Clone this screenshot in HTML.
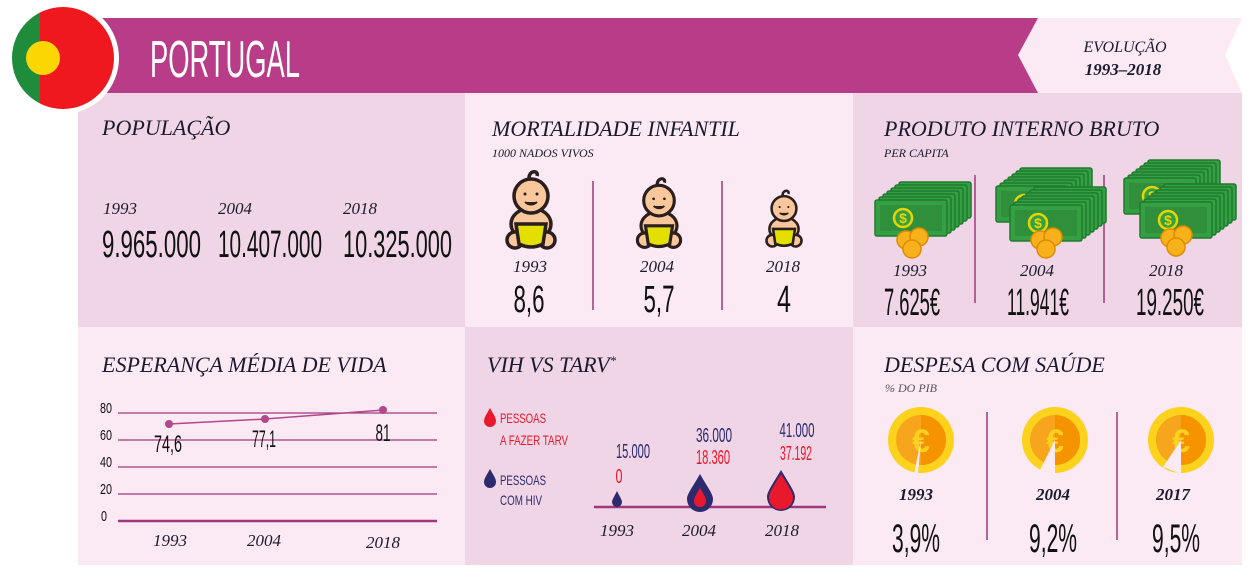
<!DOCTYPE html>
<html><head><meta charset="utf-8"><style>
html,body{margin:0;padding:0;background:#fff;width:1260px;height:584px;overflow:hidden}
svg{display:block}
.ser{font-family:"Liberation Serif",serif;font-style:italic;fill:#1a1a2e}
.num{font-family:"Liberation Sans",sans-serif;fill:#111}
</style></head><body>
<svg width="1260" height="584" viewBox="0 0 1260 584" xmlns="http://www.w3.org/2000/svg">
<defs>
<g id="baby" stroke="#2a1e1e" stroke-width="3.5">
  <path d="M-2 6 C-2 -2 8 -2 6 4" fill="none"/>
  <ellipse cx="0" cy="52" rx="20" ry="16" fill="#f9c79b"/>
  <circle cx="-16" cy="68" r="8" fill="#f9c79b"/>
  <circle cx="16" cy="68" r="8" fill="#f9c79b"/>
  <path d="M-15 52 L15 52 L12 72 Q0 78 -12 72 Z" fill="#e3e000"/>
  <circle cx="0" cy="24" r="17" fill="#f9c79b"/>
  <path d="M-6 30 Q0 35 6 30" fill="#2a1e1e" stroke-width="2"/>
  <circle cx="-6" cy="22" r="1.5" fill="#2a1e1e" stroke="none"/>
  <circle cx="6" cy="22" r="1.5" fill="#2a1e1e" stroke="none"/>
</g>
<g id="bill">
  <rect x="0" y="0" width="72" height="36" rx="2" fill="#34a043" stroke="#1f7a2e" stroke-width="1.5"/>
</g>
<g id="stack">
  <use href="#bill" x="24" y="-18"/><use href="#bill" x="20" y="-15"/><use href="#bill" x="16" y="-12"/>
  <use href="#bill" x="12" y="-9"/><use href="#bill" x="8" y="-6"/><use href="#bill" x="4" y="-3"/><use href="#bill" x="0" y="0"/>
  <rect x="5" y="5" width="62" height="26" fill="#2f8f3b"/>
  <circle cx="28" cy="18" r="9" fill="#34a043" stroke="#e8d500" stroke-width="2.5"/>
  <text x="28" y="23" text-anchor="middle" font-family="Liberation Sans" font-weight="bold" font-size="14" fill="#e8d500">$</text>
</g>
<g id="coins">
  <circle cx="0" cy="0" r="9" fill="#f7b21b" stroke="#e08a00" stroke-width="1.5"/>
  <circle cx="13" cy="-3" r="9" fill="#f7b21b" stroke="#e08a00" stroke-width="1.5"/>
  <circle cx="6" cy="9" r="9" fill="#f7b21b" stroke="#e08a00" stroke-width="1.5"/>
</g>
<g id="coin">
  <circle r="33" fill="#fcd21c"/>
  <circle r="25" fill="#f8a51e"/>
  <path d="M0 -25 A25 25 0 0 1 0 25 Z" fill="#f59300"/>
  <text x="0" y="12" text-anchor="middle" font-family="Liberation Sans" font-weight="bold" font-size="32" fill="#fcd21c">€</text>
</g>
</defs>

<rect x="78" y="93" width="387" height="234" fill="#efd5e6"/>
<rect x="465" y="93" width="388" height="234" fill="#fbe9f3"/>
<rect x="853" y="93" width="389" height="234" fill="#efd5e6"/>
<rect x="78" y="327" width="387" height="238" fill="#fbe9f3"/>
<rect x="465" y="327" width="388" height="238" fill="#efd5e6"/>
<rect x="853" y="327" width="389" height="238" fill="#fbe9f3"/>

<rect x="92" y="18" width="950" height="75" fill="#b83c87"/>
<polygon points="1038,18 1242,18 1225,55 1242,93 1038,93 1018,55" fill="#fbe9f3"/>
<text x="150" y="77" class="num" font-size="52" style="fill:#fff" textLength="150" lengthAdjust="spacingAndGlyphs">PORTUGAL</text>
<text x="1125" y="52" class="ser" font-size="16" text-anchor="middle">EVOLUÇÃO</text>
<text x="1123" y="75" class="ser" font-size="17" font-weight="bold" text-anchor="middle">1993–2018</text>

<circle cx="63" cy="58" r="56" fill="#fff"/>
<clipPath id="fc"><circle cx="63" cy="58" r="51"/></clipPath>
<g clip-path="url(#fc)">
  <rect x="0" y="0" width="40" height="120" fill="#1e8c3a"/>
  <rect x="40" y="0" width="90" height="120" fill="#f0181f"/>
</g>
<circle cx="43" cy="58" r="17" fill="#fcd600"/>

<text x="102" y="135" class="ser" font-size="22">POPULAÇÃO</text>
<text x="103" y="214" class="ser" font-size="17">1993</text>
<text x="218" y="214" class="ser" font-size="17">2004</text>
<text x="343" y="214" class="ser" font-size="17">2018</text>
<text x="102" y="257" class="num" font-size="38" textLength="99" lengthAdjust="spacingAndGlyphs">9.965.000</text>
<text x="218" y="257" class="num" font-size="38" textLength="104" lengthAdjust="spacingAndGlyphs">10.407.000</text>
<text x="343" y="257" class="num" font-size="38" textLength="109" lengthAdjust="spacingAndGlyphs">10.325.000</text>

<text x="492" y="136" class="ser" font-size="22">MORTALIDADE INFANTIL</text>
<text x="492" y="157" class="ser" font-size="12">1000 NADOS VIVOS</text>
<line x1="593" y1="181" x2="593" y2="310" stroke="#a0397c" stroke-width="1.5"/>
<line x1="722" y1="181" x2="722" y2="310" stroke="#a0397c" stroke-width="1.5"/>
<use href="#baby" transform="translate(531,172) scale(1)"/>
<use href="#baby" transform="translate(659,179) scale(0.9)"/>
<use href="#baby" transform="translate(784,191) scale(0.73)"/>
<text x="530" y="272" class="ser" font-size="17" text-anchor="middle">1993</text>
<text x="657" y="272" class="ser" font-size="17" text-anchor="middle">2004</text>
<text x="783" y="272" class="ser" font-size="17" text-anchor="middle">2018</text>
<text x="529" y="312" class="num" font-size="38" text-anchor="middle" textLength="31" lengthAdjust="spacingAndGlyphs">8,6</text>
<text x="659" y="312" class="num" font-size="38" text-anchor="middle" textLength="31" lengthAdjust="spacingAndGlyphs">5,7</text>
<text x="784" y="312" class="num" font-size="38" text-anchor="middle" textLength="14" lengthAdjust="spacingAndGlyphs">4</text>

<text x="884" y="136" class="ser" font-size="22">PRODUTO INTERNO BRUTO</text>
<text x="884" y="157" class="ser" font-size="12">PER CAPITA</text>
<line x1="975" y1="175" x2="975" y2="303" stroke="#a0397c" stroke-width="1.5"/>
<line x1="1104" y1="175" x2="1104" y2="303" stroke="#a0397c" stroke-width="1.5"/>
<use href="#stack" transform="translate(875,200)"/>
<use href="#coins" transform="translate(906,240)"/>
<use href="#stack" transform="translate(996,186)"/>
<use href="#stack" transform="translate(1010,205)"/>
<use href="#coins" transform="translate(1040,240)"/>
<use href="#stack" transform="translate(1124,178)"/>
<use href="#stack" transform="translate(1140,202)"/>
<use href="#coins" transform="translate(1170,238)"/>
<text x="910" y="276" class="ser" font-size="17" text-anchor="middle">1993</text>
<text x="1037" y="276" class="ser" font-size="17" text-anchor="middle">2004</text>
<text x="1166" y="276" class="ser" font-size="17" text-anchor="middle">2018</text>
<text x="884" y="315" class="num" font-size="38" textLength="56" lengthAdjust="spacingAndGlyphs">7.625€</text>
<text x="1007" y="315" class="num" font-size="38" textLength="62" lengthAdjust="spacingAndGlyphs">11.941€</text>
<text x="1136" y="315" class="num" font-size="38" textLength="68" lengthAdjust="spacingAndGlyphs">19.250€</text>

<text x="102" y="372" class="ser" font-size="22">ESPERANÇA MÉDIA DE VIDA</text>
<g stroke="#9e3a7f" stroke-width="1.3">
<line x1="118" y1="413" x2="437" y2="413"/>
<line x1="118" y1="440" x2="437" y2="440"/>
<line x1="118" y1="467" x2="437" y2="467"/>
<line x1="118" y1="494" x2="437" y2="494"/>
</g>
<line x1="118" y1="521" x2="437" y2="521" stroke="#a0397c" stroke-width="2.5"/>
<g class="num" font-size="15">
<text x="100" y="413" textLength="12" lengthAdjust="spacingAndGlyphs">80</text>
<text x="100" y="440" textLength="12" lengthAdjust="spacingAndGlyphs">60</text>
<text x="100" y="467" textLength="12" lengthAdjust="spacingAndGlyphs">40</text>
<text x="100" y="494" textLength="12" lengthAdjust="spacingAndGlyphs">20</text>
<text x="101" y="521" textLength="6" lengthAdjust="spacingAndGlyphs">0</text>
</g>
<polyline points="169,424 265,419 383,410" fill="none" stroke="#b0488b" stroke-width="1.5"/>
<circle cx="169" cy="424" r="4" fill="#b0488b"/>
<circle cx="265" cy="419" r="4" fill="#b0488b"/>
<circle cx="383" cy="410" r="4" fill="#b0488b"/>
<text x="168" y="452" class="num" font-size="24" text-anchor="middle" textLength="28" lengthAdjust="spacingAndGlyphs">74,6</text>
<text x="264" y="447" class="num" font-size="24" text-anchor="middle" textLength="24" lengthAdjust="spacingAndGlyphs">77,1</text>
<text x="383" y="441" class="num" font-size="24" text-anchor="middle" textLength="15" lengthAdjust="spacingAndGlyphs">81</text>
<text x="170" y="546" class="ser" font-size="17" text-anchor="middle">1993</text>
<text x="264" y="546" class="ser" font-size="17" text-anchor="middle">2004</text>
<text x="383" y="548" class="ser" font-size="17" text-anchor="middle">2018</text>

<text x="487" y="372" class="ser" font-size="22">VIH VS TARV<tspan font-size="13" dy="-7">*</tspan></text>
<path d="M490 408 C486 415 484 418 484 421 A6 6 0 0 0 496 421 C496 418 494 415 490 408 Z" fill="#e8192c"/>
<path d="M490 469 C486 476 484 479 484 482 A6 6 0 0 0 496 482 C496 479 494 476 490 469 Z" fill="#2d2a6e"/>
<g class="num" font-size="14">
<text x="500" y="423" style="fill:#e8192c" textLength="46" lengthAdjust="spacingAndGlyphs">PESSOAS</text>
<text x="500" y="445" style="fill:#e8192c" textLength="68" lengthAdjust="spacingAndGlyphs">A FAZER TARV</text>
<text x="500" y="485" style="fill:#2d2a6e" textLength="46" lengthAdjust="spacingAndGlyphs">PESSOAS</text>
<text x="500" y="505" style="fill:#2d2a6e" textLength="42" lengthAdjust="spacingAndGlyphs">COM HIV</text>
</g>
<line x1="594" y1="507" x2="826" y2="507" stroke="#a0397c" stroke-width="2.5"/>
<path d="M617 491 C614 497 612 500 612 502 A5 5 0 0 0 622 502 C622 500 620 497 617 491 Z" fill="#2d2a6e"/>
<path d="M700 474 C692 488 687 494 687 499 A13 13 0 0 0 713 499 C713 494 708 488 700 474 Z" fill="#2d2a6e"/>
<path d="M700 488 C696 495 694 498 694 501 A6 6 0 0 0 706 501 C706 498 704 495 700 488 Z" fill="#e8192c"/>
<path d="M781 470 C772 485 767 492 767 497 A14 14 0 0 0 795 497 C795 492 790 485 781 470 Z" fill="#2d2a6e"/>
<path d="M781 474 C773 487 769 493 769 497.5 A12 12 0 0 0 793 497.5 C793 493 789 487 781 474 Z" fill="#e8192c"/>
<g class="num" font-size="20">
<text x="633" y="458" text-anchor="middle" style="fill:#2d2a6e" textLength="34" lengthAdjust="spacingAndGlyphs">15.000</text>
<text x="619" y="483" text-anchor="middle" style="fill:#e8192c" textLength="7" lengthAdjust="spacingAndGlyphs">0</text>
<text x="714" y="442" text-anchor="middle" style="fill:#2d2a6e" textLength="36" lengthAdjust="spacingAndGlyphs">36.000</text>
<text x="713" y="464" text-anchor="middle" style="fill:#e8192c" textLength="34" lengthAdjust="spacingAndGlyphs">18.360</text>
<text x="797" y="437" text-anchor="middle" style="fill:#2d2a6e" textLength="35" lengthAdjust="spacingAndGlyphs">41.000</text>
<text x="796" y="460" text-anchor="middle" style="fill:#e8192c" textLength="32" lengthAdjust="spacingAndGlyphs">37.192</text>
</g>
<text x="617" y="536" class="ser" font-size="17" text-anchor="middle">1993</text>
<text x="699" y="536" class="ser" font-size="17" text-anchor="middle">2004</text>
<text x="782" y="536" class="ser" font-size="17" text-anchor="middle">2018</text>

<text x="884" y="372" class="ser" font-size="22">DESPESA COM SAÚDE</text>
<text x="885" y="392" class="ser" font-size="12" style="fill:#555">% DO PIB</text>
<line x1="987" y1="412" x2="987" y2="540" stroke="#a0397c" stroke-width="1.5"/>
<line x1="1117" y1="412" x2="1117" y2="540" stroke="#a0397c" stroke-width="1.5"/>
<use href="#coin" transform="translate(921,440)"/>
<use href="#coin" transform="translate(1055,440)"/>
<use href="#coin" transform="translate(1181,440)"/>
<polygon points="921,440 918,474 914,474" fill="#fbe9f3"/>
<polygon points="1055,440 1055,474 1040,470" fill="#fbe9f3"/>
<polygon points="1181,440 1181,474 1163,467" fill="#fbe9f3"/>
<text x="916" y="500" class="ser" font-size="17" text-anchor="middle" font-weight="bold">1993</text>
<text x="1053" y="500" class="ser" font-size="17" text-anchor="middle" font-weight="bold">2004</text>
<text x="1173" y="500" class="ser" font-size="17" text-anchor="middle" font-weight="bold">2017</text>
<text x="916" y="552" class="num" font-size="40" text-anchor="middle" textLength="48" lengthAdjust="spacingAndGlyphs">3,9%</text>
<text x="1053" y="552" class="num" font-size="40" text-anchor="middle" textLength="48" lengthAdjust="spacingAndGlyphs">9,2%</text>
<text x="1176" y="552" class="num" font-size="40" text-anchor="middle" textLength="48" lengthAdjust="spacingAndGlyphs">9,5%</text>
</svg>
</body></html>
